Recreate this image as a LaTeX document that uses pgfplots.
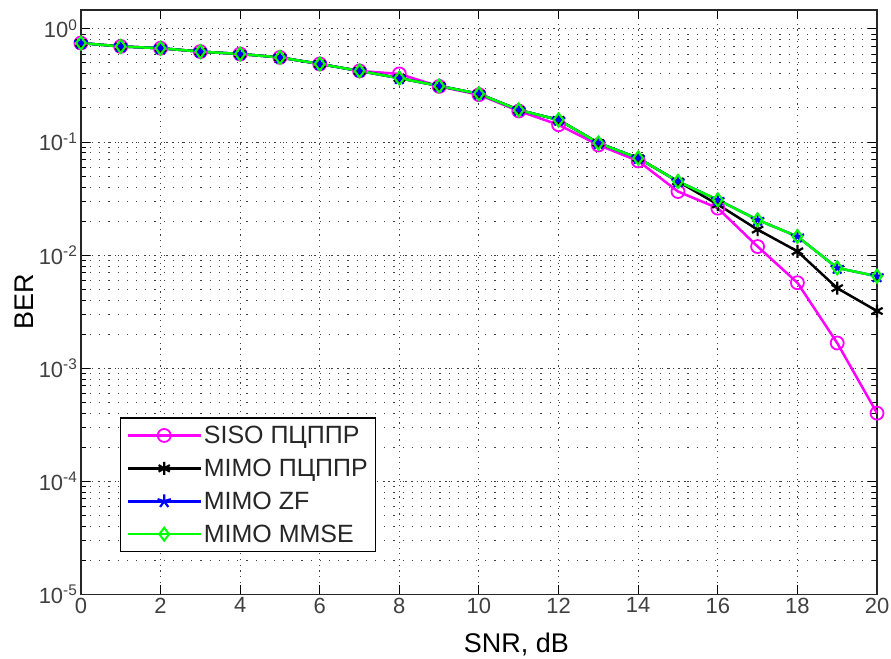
\documentclass[border=0pt]{standalone}
\usepackage{fontspec}
\setmainfont{Liberation Sans}
\usepackage{pgfplots}
\pgfplotsset{compat=1.18}
\definecolor{mag}{rgb}{1,0,1}
\definecolor{grn}{rgb}{0,1,0}
\definecolor{blu}{rgb}{0,0,1}

\begin{document}
\begin{tikzpicture}
\begin{semilogyaxis}[
  name=ax,
  scale only axis,
  width=797pt, height=585pt,
  xmin=0, xmax=20,
  ymin=1e-5, ymax=1.47,
  xtick={0,2,...,20},
  ytick={1e-5,1e-4,1e-3,1e-2,1e-1,1},
  yticklabels={10\textsuperscript{-5},10\textsuperscript{-4},10\textsuperscript{-3},10\textsuperscript{-2},10\textsuperscript{-1},10\textsuperscript{0}},
  /pgf/number format/assume math mode=true,
  tick label style={font=\fontsize{22}{22}\selectfont, text=black!75},
  tick align=inside,
  major tick length=9pt,
  minor tick length=5pt,
  every tick/.style={black, line width=1pt},
  axis line style={black!85, line width=1.5pt},
  grid=both,
  major grid style={black!75, line width=1pt, dash pattern=on 1.2pt off 4.5pt},
  minor grid style={black!75, line width=1pt, dash pattern=on 1.2pt off 8pt},
  xlabel={SNR, dB},
  ylabel={BER},
  xlabel style={font=\fontsize{27}{27}\selectfont, at={(axis description cs:0.547,0)}, anchor=base, yshift=-58pt},
  ylabel style={font=\fontsize{27}{27}\selectfont, at={(axis description cs:-0.060,0.5)}, anchor=base},
  legend style={at={(axis description cs:0.049,0.072)}, anchor=south west,
    font=\fontsize{25}{25}\selectfont, draw=black, line width=1.2pt, fill=white,
    row sep=10pt, inner xsep=6pt, inner ysep=6pt, text=black!85},
  legend cell align=left,
  legend image code/.code={\draw[mark repeat=2,mark phase=2,#1] plot coordinates {(0pt,0pt) (36.5pt,0pt) (73pt,0pt)};},
]
\addplot[mag, line width=2.5pt, mark=o, mark size=6.5pt, mark options={line width=1.8pt}] coordinates {
(0,0.75) (1,0.70) (2,0.675) (3,0.63) (4,0.60) (5,0.56) (6,0.49) (7,0.425) (8,0.40) (9,0.31)
(10,0.262) (11,0.188) (12,0.142) (13,0.094) (14,0.068) (15,0.0365) (16,0.026) (17,0.0119)
(18,0.0057) (19,0.00167) (20,0.00040)};
\addlegendentry{SISO ПЦППР}
\addplot[black, line width=2.5pt, mark=asterisk, mark size=6.5pt, mark options={line width=2.2pt}] coordinates {
(0,0.75) (1,0.70) (2,0.675) (3,0.63) (4,0.60) (5,0.56) (6,0.49) (7,0.425) (8,0.367) (9,0.313)
(10,0.267) (11,0.192) (12,0.157) (13,0.098) (14,0.072) (15,0.0448) (16,0.028) (17,0.0168)
(18,0.0108) (19,0.0051) (20,0.0032)};
\addlegendentry{MIMO ПЦППР}
\addplot[blu, line width=2.5pt, mark=star, mark size=7pt, mark options={line width=2.2pt}] coordinates {
(0,0.75) (1,0.70) (2,0.675) (3,0.63) (4,0.60) (5,0.56) (6,0.49) (7,0.425) (8,0.367) (9,0.313)
(10,0.267) (11,0.192) (12,0.157) (13,0.098) (14,0.072) (15,0.0448) (16,0.0308) (17,0.0205)
(18,0.0146) (19,0.0077) (20,0.0065)};
\addlegendentry{MIMO ZF}
\addplot[grn, line width=2.5pt, mark=diamond, mark size=6.5pt, mark options={line width=2pt}] coordinates {
(0,0.75) (1,0.70) (2,0.675) (3,0.63) (4,0.60) (5,0.56) (6,0.49) (7,0.425) (8,0.367) (9,0.313)
(10,0.267) (11,0.192) (12,0.157) (13,0.098) (14,0.072) (15,0.0448) (16,0.0308) (17,0.0205)
(18,0.0146) (19,0.0077) (20,0.0065)};
\addlegendentry{MIMO MMSE}
\end{semilogyaxis}
\pgfresetboundingbox
\path[use as bounding box] ([shift={(-81pt,-64pt)}]ax.south west) rectangle ([shift={(14pt,10pt)}]ax.north east);
\end{tikzpicture}
\end{document}
